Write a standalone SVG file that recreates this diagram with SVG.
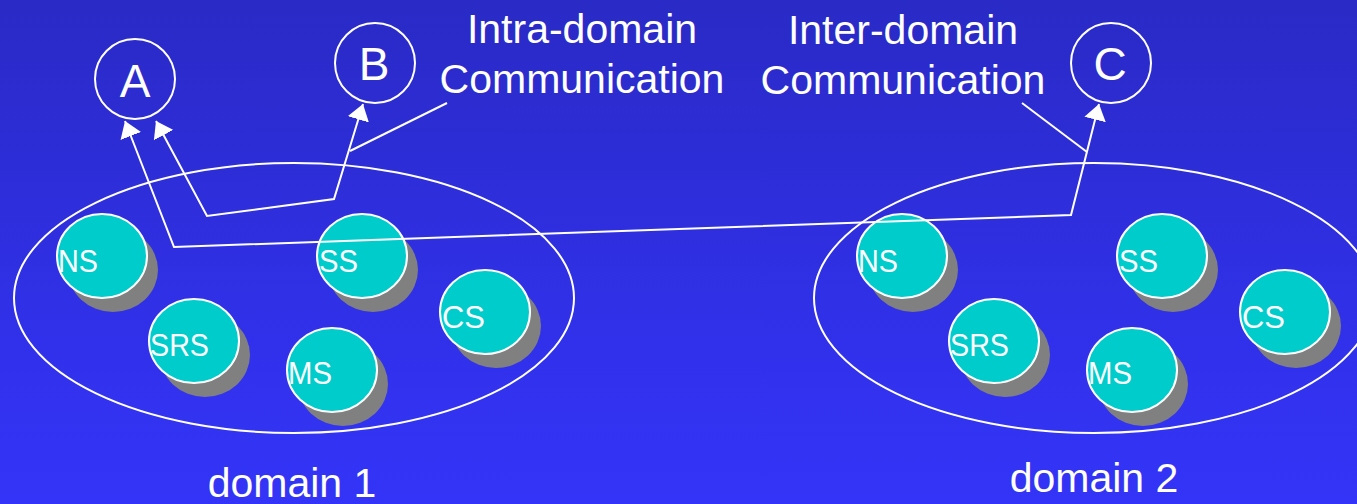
<svg xmlns="http://www.w3.org/2000/svg" width="1357" height="504" viewBox="0 0 1357 504">
<defs>
<linearGradient id="bg" x1="0" y1="0" x2="0" y2="1">
<stop offset="0" stop-color="#2a2ac6"/>
<stop offset="0.7" stop-color="#3131ec"/>
<stop offset="1" stop-color="#3434f8"/>
</linearGradient>
<marker id="arr" viewBox="0 0 16 22" markerWidth="16" markerHeight="22" refX="16" refY="11" orient="auto-start-reverse" markerUnits="userSpaceOnUse">
<path d="M0,0 L16,11 L0,22 z" fill="#fff"/>
</marker>
<g id="srv">
<ellipse cx="11" cy="14" rx="45" ry="42" fill="#808080"/>
<ellipse cx="0" cy="0" rx="45" ry="42" fill="#00cccc" stroke="#fff" stroke-width="2"/>
</g>
</defs>
<style>
text{font-family:"Liberation Sans",Arial,sans-serif;fill:#fff}
.big{font-size:46px;text-anchor:middle}
.lbl{font-size:41px;text-anchor:middle}
.srvt{font-size:32px}
.line{fill:none;stroke:#fff;stroke-width:2}
.ring{fill:none;stroke:#fff;stroke-width:2}
</style>
<rect width="1357" height="504" fill="url(#bg)"/>

<g id="domain1">
<ellipse class="ring" cx="294" cy="298" rx="280" ry="135"/>
<text class="lbl" x="292" y="497">domain 1</text>
</g>
<g id="domain2">
<ellipse class="ring" cx="1094" cy="298" rx="280" ry="135"/>
<text class="lbl" x="1094" y="492">domain 2</text>
</g>

<g id="d1-NS"><use href="#srv" x="102" y="256"/><text class="srvt" x="58" y="272" textLength="40" lengthAdjust="spacingAndGlyphs">NS</text></g>
<g id="d1-SS"><use href="#srv" x="362" y="256"/><text class="srvt" x="319" y="272" textLength="39" lengthAdjust="spacingAndGlyphs">SS</text></g>
<g id="d1-CS"><use href="#srv" x="485" y="312"/><text class="srvt" x="442" y="328" textLength="43" lengthAdjust="spacingAndGlyphs">CS</text></g>
<g id="d1-SRS"><use href="#srv" x="194" y="341"/><text class="srvt" x="150" y="356" textLength="59" lengthAdjust="spacingAndGlyphs">SRS</text></g>
<g id="d1-MS"><use href="#srv" x="332" y="370"/><text class="srvt" x="288" y="384" textLength="44" lengthAdjust="spacingAndGlyphs">MS</text></g>

<g id="d2-NS"><use href="#srv" x="902" y="256"/><text class="srvt" x="858" y="272" textLength="40" lengthAdjust="spacingAndGlyphs">NS</text></g>
<g id="d2-SS"><use href="#srv" x="1162" y="256"/><text class="srvt" x="1119" y="272" textLength="39" lengthAdjust="spacingAndGlyphs">SS</text></g>
<g id="d2-CS"><use href="#srv" x="1285" y="312"/><text class="srvt" x="1242" y="328" textLength="43" lengthAdjust="spacingAndGlyphs">CS</text></g>
<g id="d2-SRS"><use href="#srv" x="994" y="341"/><text class="srvt" x="950" y="356" textLength="59" lengthAdjust="spacingAndGlyphs">SRS</text></g>
<g id="d2-MS"><use href="#srv" x="1132" y="370"/><text class="srvt" x="1088" y="384" textLength="44" lengthAdjust="spacingAndGlyphs">MS</text></g>

<g id="A"><circle class="ring" cx="135" cy="79" r="40"/><text class="big" x="135" y="97">A</text></g>
<g id="B"><circle class="ring" cx="375" cy="63" r="40"/><text class="big" x="374" y="80">B</text></g>
<g id="C"><circle class="ring" cx="1111" cy="63" r="40"/><text class="big" x="1110" y="80">C</text></g>

<g id="intra-label">
<text class="lbl" x="582" y="43">Intra-domain</text>
<text class="lbl" x="582" y="93">Communication</text>
</g>
<g id="inter-label">
<text class="lbl" x="903" y="44">Inter-domain</text>
<text class="lbl" x="903" y="94">Communication</text>
</g>

<g id="connectors">
<path class="line" d="M125,121 L174,247 L1071,215 L1099,104" marker-start="url(#arr)" marker-end="url(#arr)"/>
<path class="line" d="M156,121 L207,216 L334,199 L363,104" marker-start="url(#arr)" marker-end="url(#arr)"/>
<path class="line" d="M447,103 L350,151"/>
<path class="line" d="M1022,103 L1087,152"/>
</g>
</svg>
